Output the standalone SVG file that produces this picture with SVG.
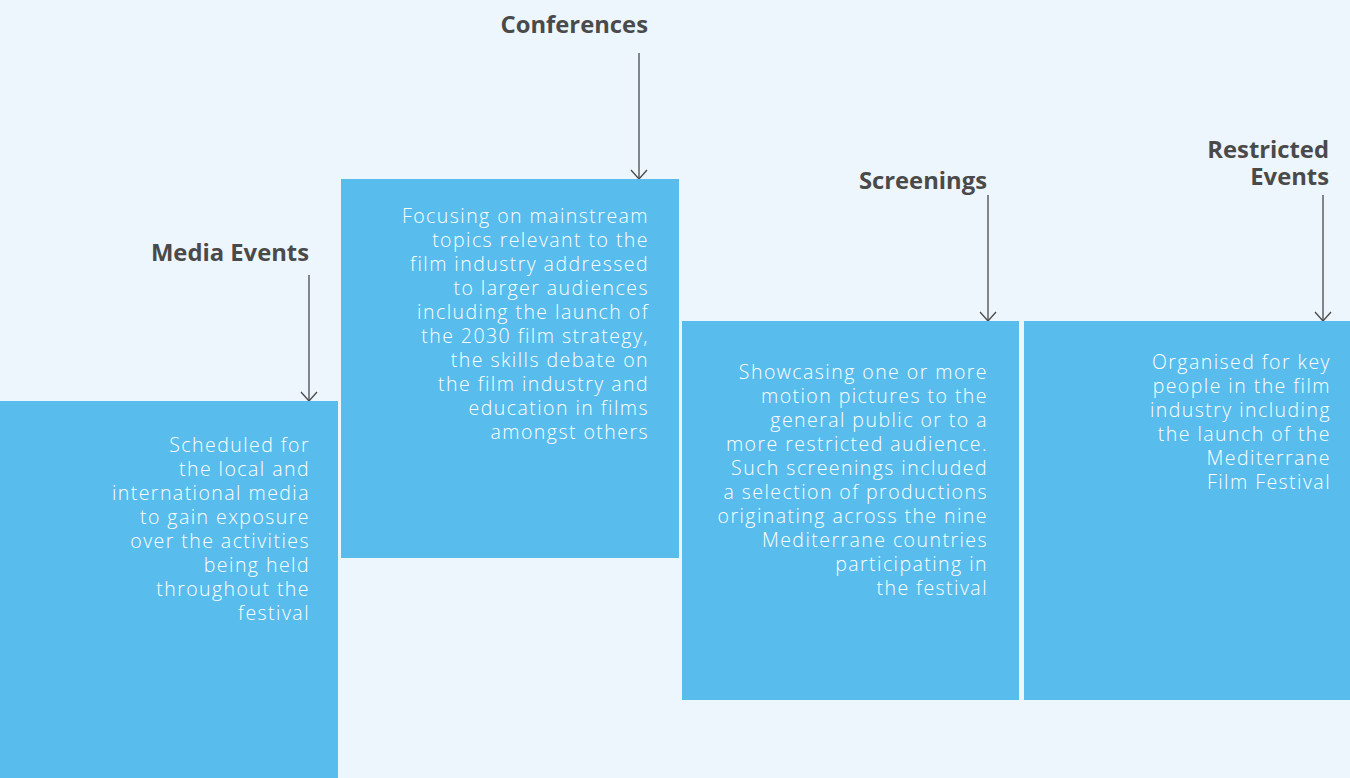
<svg xmlns="http://www.w3.org/2000/svg" width="1350" height="778" viewBox="0 0 1350 778">
<defs>
<style>
.bg{fill:#EEF6FD}
.box{fill:#58BDEC}
.title{font-family:"Open Sans","Liberation Sans",sans-serif;font-weight:700;font-size:23.8px;fill:#4A4A4A;text-anchor:end}
.body{font-family:"Open Sans","Liberation Sans",sans-serif;font-weight:300;font-size:19.5px;letter-spacing:1.45px;fill:#FFFFFF;text-anchor:end}
.conn{stroke:#4A4A4A;stroke-width:1.3;fill:none}
</style>
<marker id="arr" markerWidth="12" markerHeight="20" refX="10" refY="9" orient="auto" markerUnits="userSpaceOnUse" viewBox="0 0 12 20">
<path d="M1,1 L10,9 L1,17" fill="none" stroke="#4A4A4A" stroke-width="1.3"/>
</marker>
</defs>
<rect class="bg" x="0" y="0" width="1350" height="778"/>
<g id="connectors">
<path class="conn" d="M309,275 V401" marker-end="url(#arr)"/>
<path class="conn" d="M639,53 V179" marker-end="url(#arr)"/>
<path class="conn" d="M988,195 V321" marker-end="url(#arr)"/>
<path class="conn" d="M1323,195 V321" marker-end="url(#arr)"/>
</g>
<g id="media-events">
<rect class="box" x="0" y="401" width="338" height="377"/>
<text class="title" x="309" y="261">Media Events</text>
<text class="body" x="310" y="452"><tspan x="310">Scheduled for</tspan><tspan x="310" dy="24">the local and</tspan><tspan x="310" dy="24">international media</tspan><tspan x="310" dy="24">to gain exposure</tspan><tspan x="310" dy="24">over the activities</tspan><tspan x="310" dy="24">being held</tspan><tspan x="310" dy="24">throughout the</tspan><tspan x="310" dy="24">festival</tspan></text>
</g>
<g id="conferences">
<rect class="box" x="341" y="179" width="338" height="379"/>
<text class="title" x="648" y="33">Conferences</text>
<text class="body" x="649" y="223"><tspan x="649">Focusing on mainstream</tspan><tspan x="649" dy="24">topics relevant to the</tspan><tspan x="649" dy="24">film industry addressed</tspan><tspan x="649" dy="24">to larger audiences</tspan><tspan x="649" dy="24">including the launch of</tspan><tspan x="649" dy="24">the 2030 film strategy,</tspan><tspan x="649" dy="24">the skills debate on</tspan><tspan x="649" dy="24">the film industry and</tspan><tspan x="649" dy="24">education in films</tspan><tspan x="649" dy="24">amongst others</tspan></text>
</g>
<g id="screenings">
<rect class="box" x="682" y="321" width="337" height="379"/>
<text class="title" x="987" y="189">Screenings</text>
<text class="body" x="988" y="379"><tspan x="988">Showcasing one or more</tspan><tspan x="988" dy="24">motion pictures to the</tspan><tspan x="988" dy="24">general public or to a</tspan><tspan x="988" dy="24">more restricted audience.</tspan><tspan x="988" dy="24">Such screenings included</tspan><tspan x="988" dy="24">a selection of productions</tspan><tspan x="988" dy="24">originating across the nine</tspan><tspan x="988" dy="24">Mediterrane countries</tspan><tspan x="988" dy="24">participating in</tspan><tspan x="988" dy="24">the festival</tspan></text>
</g>
<g id="restricted-events">
<rect class="box" x="1024" y="321" width="326" height="379"/>
<text class="title" x="1329" y="158"><tspan x="1329">Restricted</tspan><tspan x="1329" dy="27">Events</tspan></text>
<text class="body" x="1331" y="369"><tspan x="1331">Organised for key</tspan><tspan x="1331" dy="24">people in the film</tspan><tspan x="1331" dy="24">industry including</tspan><tspan x="1331" dy="24">the launch of the</tspan><tspan x="1331" dy="24">Mediterrane</tspan><tspan x="1331" dy="24">Film Festival</tspan></text>
</g>
</svg>
